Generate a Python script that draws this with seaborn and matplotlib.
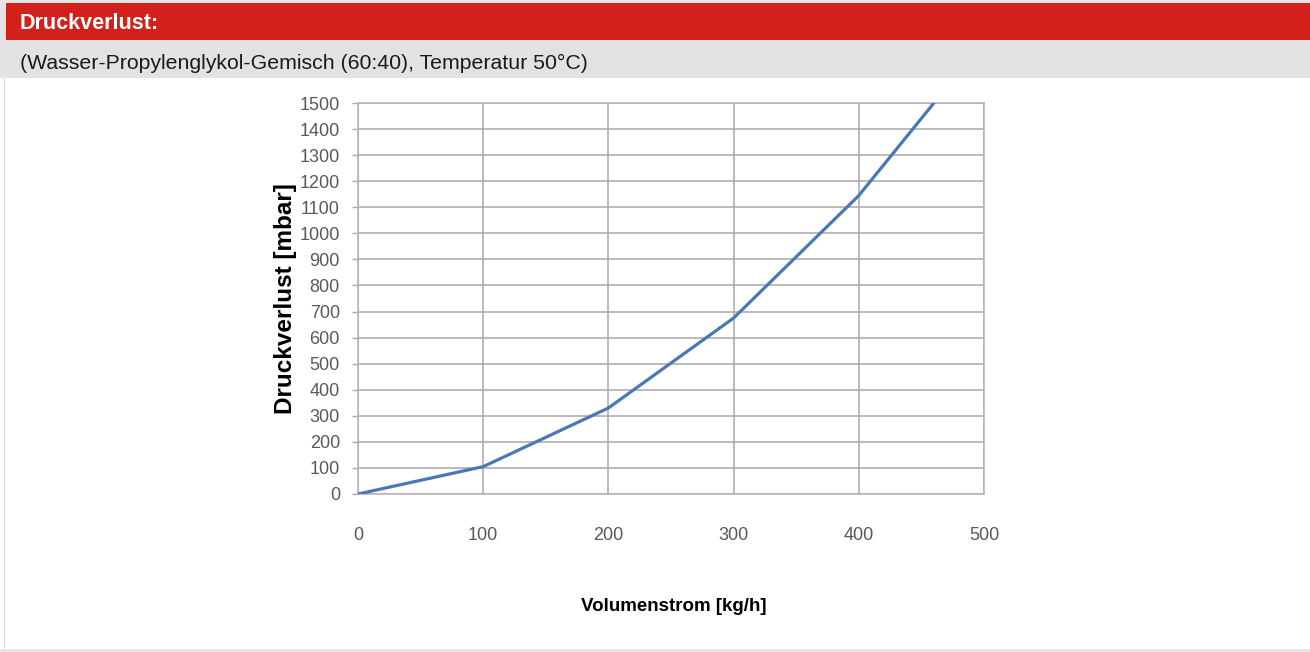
import numpy as np
import pandas as pd
import matplotlib
matplotlib.use('Agg')
import matplotlib.pyplot as plt
from matplotlib.patches import Rectangle
import seaborn as sns

# values
flow = [0, 100, 200, 300, 400, 460]          # Volumenstrom [kg/h]
dp = [0, 105, 330, 675, 1145, 1500]          # Druckverlust [mbar]
x_ticks = [0, 100, 200, 300, 400, 500]
y_ticks = list(range(0, 1501, 100))

title = 'Druckverlust:'
subtitle = '(Wasser-Propylenglykol-Gemisch (60:40), Temperatur 50°C)'
xlabel = 'Volumenstrom [kg/h]'
ylabel = 'Druckverlust [mbar]'

W, H = 1310, 652

def fx(px):
    return px / W

def fy(py):
    return 1 - py / H

sns.set_theme(style='white')
plt.rcParams['font.family'] = ['Liberation Sans', 'DejaVu Sans']

fig = plt.figure(figsize=(13.1, 6.52), dpi=100)
fig.patch.set_facecolor('white')

# table-like header bands
def band(x0, y0, x1, y1, color):
    fig.patches.append(Rectangle((fx(x0), fy(y1)), fx(x1 - x0), (y1 - y0) / H,
                                 transform=fig.transFigure, color=color, zorder=0, lw=0))

band(0, 0, W, 3, '#e4e4e4')
band(0, 0, 6, 78, '#e4e4e4')
band(6, 3, W, 40, '#d2211a')
band(6, 40, W, 78, '#e1e3e2')
band(4, 78, 5, 649, '#dedede')
band(0, 649, W, H, '#e6e6e6')

fig.text(fx(20), fy(29), title, color='white', fontsize=15.5, fontweight='bold', va='baseline', ha='left')
fig.text(fx(20), fy(69), subtitle, color='#1a1a1a', fontsize=15.3, va='baseline', ha='left')

ax = fig.add_axes([fx(358), fy(494), fx(984 - 358), (494 - 103) / H])
df = pd.DataFrame({'flow': flow, 'dp': dp})
sns.lineplot(data=df, x='flow', y='dp', ax=ax, color='#4a78b4', linewidth=2.3, zorder=3)

ax.set_xlim(0, 500)
ax.set_ylim(0, 1500)
ax.set_xticks(x_ticks)
ax.set_yticks(y_ticks)
ax.grid(True, color='#a8a8a8', linewidth=1.1)
ax.set_axisbelow(True)
for s in ax.spines.values():
    s.set_color('#b4b4b4')
    s.set_linewidth(1.1)

ax.tick_params(axis='y', left=True, length=4.5, width=1.0, color='#a8a8a8', pad=8.5,
               labelsize=13, labelcolor='#595959')
ax.tick_params(axis='x', bottom=False, length=0, pad=24, labelsize=13, labelcolor='#595959')

ax.set_xlabel('')
ax.set_ylabel(ylabel, fontsize=17.5, fontweight='bold', color='black', labelpad=1.5)

fig.text(fx(674), fy(611), xlabel, fontsize=13.5, fontweight='bold', ha='center', va='baseline', color='black')

fig.savefig('out.png', dpi=100)
